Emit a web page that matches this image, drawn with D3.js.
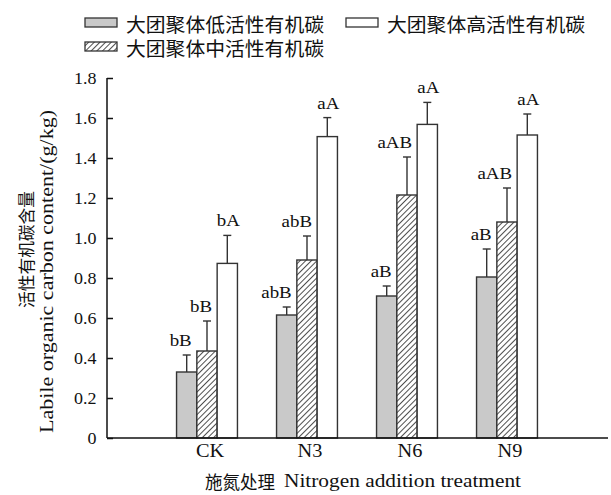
<!DOCTYPE html>
<html><head><meta charset="utf-8">
<script src="https://cdn.jsdelivr.net/npm/d3@7"></script>
<style>body{margin:0;background:#fff}svg{display:block}</style>
</head><body>
<script>
const categories = ["CK", "N3", "N6", "N9"];
const seriesNames = ["大团聚体低活性有机碳", "大团聚体中活性有机碳", "大团聚体高活性有机碳"];
const lowValues  = [0.33, 0.615, 0.71, 0.805];
const lowErr     = [0.085, 0.04, 0.05, 0.14];
const midValues  = [0.435, 0.89, 1.215, 1.08];
const midErr     = [0.15, 0.12, 0.19, 0.17];
const highValues = [0.873, 1.507, 1.568, 1.515];
const highErr    = [0.14, 0.095, 0.11, 0.105];
const lowLabels  = ["bB", "abB", "aB", "aB"];
const midLabels  = ["bB", "abB", "aAB", "aAB"];
const highLabels = ["bA", "aA", "aA", "aA"];
const yTicks = [0, 0.2, 0.4, 0.6, 0.8, 1.0, 1.2, 1.4, 1.6, 1.8];

const W = 611, H = 495;
const svg = d3.select("body").append("svg").attr("width", W).attr("height", H);
const serif = "'Liberation Serif','Times New Roman',serif";
const cjk = "'Noto Sans CJK SC','Noto Serif CJK SC',sans-serif";

function stext(g, x, y, str, size, sx, anchor) {
  return g.append("text").attr("transform", `translate(${x},${y}) scale(${sx},1)`)
    .attr("text-anchor", anchor || "start")
    .attr("font-family", serif).attr("font-size", size).attr("fill", "#111").text(str);
}

const defs = svg.append("defs");
const pat = defs.append("pattern").attr("id", "hatch").attr("patternUnits", "userSpaceOnUse")
  .attr("width", 4).attr("height", 4).attr("patternTransform", "rotate(45)");
pat.append("rect").attr("width", 4).attr("height", 4).attr("fill", "#fff");
pat.append("line").attr("x1", 0).attr("y1", 0).attr("x2", 0).attr("y2", 4)
  .attr("stroke", "#222").attr("stroke-width", 1.6);

const x0 = 107, x1 = 607, yTop = 78, yBot = 438;
const x = d3.scalePoint().domain(categories).range([x0, x1]).padding(1);
const y = d3.scaleLinear().domain([0, 1.8]).range([yBot, yTop]);
const barW = 20.3;
const fills = ["#c9c9c9", "url(#hatch)", "#fff"];
const vals = [lowValues, midValues, highValues];
const errs = [lowErr, midErr, highErr];
const labs = [lowLabels, midLabels, highLabels];
const offsets = [-1.5, -0.5, 0.5];

// y axis
const yAxis = d3.axisLeft(y).tickValues(yTicks).tickSize(-6).tickPadding(10)
  .tickFormat(d => d === 0 ? "0" : d3.format(".1f")(d));
const gy = svg.append("g").attr("transform", `translate(${x0},0)`).call(yAxis);
gy.select(".domain").attr("d", `M0,${yTop}V${yBot}`).attr("stroke", "#111").attr("stroke-width", 1.5);
gy.selectAll(".tick line").attr("stroke", "#111").attr("stroke-width", 1.5);
gy.selectAll(".tick text").attr("font-family", serif).attr("font-size", 17).attr("fill", "#111")
  .attr("dy", "0.33em").attr("transform", "scale(1.06,1)");

// bars
vals.forEach((arr, s) => {
  const g = svg.append("g");
  categories.forEach((c, i) => {
    const cx = x(c) + offsets[s] * barW;
    const top = y(arr[i]);
    g.append("rect").attr("x", cx).attr("y", top).attr("width", barW).attr("height", yBot - top)
      .attr("fill", fills[s]).attr("stroke", "#333").attr("stroke-width", 1.4);
    const mid = cx + barW / 2;
    const et = y(arr[i] + errs[s][i]);
    g.append("line").attr("x1", mid).attr("x2", mid).attr("y1", top).attr("y2", et)
      .attr("stroke", "#333").attr("stroke-width", 1.4);
    g.append("line").attr("x1", mid - 4).attr("x2", mid + 4).attr("y1", et).attr("y2", et)
      .attr("stroke", "#333").attr("stroke-width", 1.4);
    stext(g, s === 2 ? mid + 1 : mid + 5, et - 9, labs[s][i], 16, 1.18, s === 2 ? "middle" : "end");
  });
});

// x axis
const xAxis = d3.axisBottom(x).tickSize(0).tickFormat("");
const gx = svg.append("g").attr("transform", `translate(0,${yBot})`).call(xAxis);
gx.select(".domain").attr("d", `M${x0},0H608`).attr("stroke", "#111").attr("stroke-width", 1.5);
categories.forEach(c => stext(svg, x(c) + 3, 457, c, 18, 1.13, "middle"));

// axis titles
svg.append("text").attr("x", 205).attr("y", 489).attr("textLength", 70).attr("lengthAdjust", "spacingAndGlyphs")
  .attr("font-family", cjk).attr("font-size", 18).attr("fill", "#111").text("施氮处理");
svg.append("text").attr("x", 284).attr("y", 487).attr("textLength", 237).attr("lengthAdjust", "spacingAndGlyphs")
  .attr("font-family", serif).attr("font-size", 18).attr("fill", "#111").text("Nitrogen addition treatment");
svg.append("text").attr("transform", "translate(33,308) rotate(-90)")
  .attr("textLength", 117).attr("lengthAdjust", "spacingAndGlyphs")
  .attr("font-family", cjk).attr("font-size", 17.5).attr("fill", "#111").text("活性有机碳含量");
svg.append("text").attr("transform", "translate(53,433) rotate(-90)")
  .attr("textLength", 323).attr("lengthAdjust", "spacingAndGlyphs")
  .attr("font-family", serif).attr("font-size", 18).attr("fill", "#111").text("Labile organic carbon content/(g/kg)");

// legend
const legendItems = [
  {name: seriesNames[0], fill: fills[0], sx: 85, sy: 18},
  {name: seriesNames[2], fill: fills[2], sx: 346, sy: 18},
  {name: seriesNames[1], fill: fills[1], sx: 85, sy: 42}
];
const lg = svg.append("g");
legendItems.forEach(d => {
  lg.append("rect").attr("x", d.sx).attr("y", d.sy).attr("width", 32).attr("height", 9)
    .attr("fill", d.fill).attr("stroke", "#333").attr("stroke-width", 1.3);
  lg.append("text").attr("x", d.sx + 41).attr("y", d.sy + 13.5)
    .attr("textLength", 198).attr("lengthAdjust", "spacingAndGlyphs")
    .attr("font-family", cjk).attr("font-size", 19.5).attr("fill", "#111").text(d.name);
});
</script>
</body></html>
